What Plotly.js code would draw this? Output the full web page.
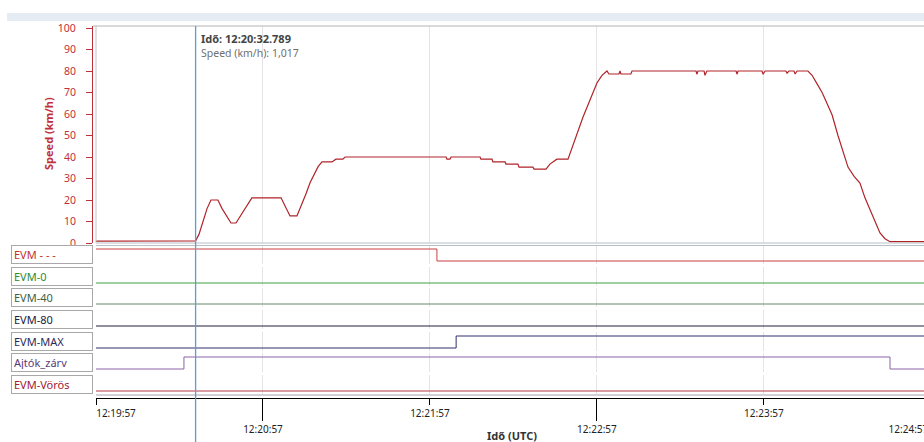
<!DOCTYPE html>
<html><head><meta charset="utf-8">
<script src="https://cdn.plot.ly/plotly-3.0.1.min.js"></script>
<style>html,body{margin:0;padding:0;overflow:hidden;background:#fff}#chart{width:960px;height:442px}</style>
</head><body><div id="chart"></div><script>
// ---------- data ----------
const DAY = '2024-05-14 ';
const xRange = ['12:19:57', '12:25:07.45'];
const cursorTime = '12:20:32.789';
const cursorSpeed = 1.017;

const speedTimes = ['12:19:57.0','12:20:30.8','12:20:32.789','12:20:34.0','12:20:35.4','12:20:36.9','12:20:38.3','12:20:40.8','12:20:42.3','12:20:44.1','12:20:45.5','12:20:47.3','12:20:49.1','12:20:50.9','12:20:53.0','12:21:03.5','12:21:04.9','12:21:06.7','12:21:09.2','12:21:11.0','12:21:12.5','12:21:13.9','12:21:15.3','12:21:16.8','12:21:18.2','12:21:21.8','12:21:23.2','12:21:25.7','12:21:26.5','12:22:02.8','12:22:03.1','12:22:04.2','12:22:04.6','12:22:15.0','12:22:15.3','12:22:19.3','12:22:19.6','12:22:24.0','12:22:24.3','12:22:28.6','12:22:29.0','12:22:34.0','12:22:34.4','12:22:38.7','12:22:40.1','12:22:41.2','12:22:42.6','12:22:46.6','12:22:49.1','12:22:52.0','12:22:54.5','12:22:57.0','12:22:58.8','12:22:59.9','12:23:00.6','12:23:01.3','12:23:04.9','12:23:05.3','12:23:05.6','12:23:09.2','12:23:09.6','12:23:32.6','12:23:32.9','12:23:33.3','12:23:35.5','12:23:35.8','12:23:36.5','12:23:47.0','12:23:47.3','12:23:47.7','12:23:56.3','12:23:56.7','12:23:57.4','12:24:04.9','12:24:05.3','12:24:06.0','12:24:07.8','12:24:08.2','12:24:08.9','12:24:12.8','12:24:14.3','12:24:16.1','12:24:17.9','12:24:20.0','12:24:21.5','12:24:23.6','12:24:25.4','12:24:27.2','12:24:29.4','12:24:31.5','12:24:33.3','12:24:35.1','12:24:36.9','12:24:38.7','12:24:40.5','12:24:42.3','12:25:07.4'];
const speedValues = [0.9,0.9,1.017,4,10,16,20,20,16,12,9.3,9.3,13,17,21,21,17,12.6,12.6,18,23,28,32,35.5,37.7,37.7,39,39,40,40,39,39,40,40,39,39,37.7,37.7,36.7,36.7,35.3,35.3,34.4,34.4,36.7,37.7,39,39,48,58.6,66.5,74.4,78,79,80,78.6,78.6,80,78.6,78.6,80,80,78.5,80,80,78,80,80,78.5,80,80,78.5,80,80,79,80,80,78.6,80,80,78,74,70,64,59.5,50,43,35.3,31,27.9,21,15.3,10,4.7,2,0.6,0.6];

const rowNames = ['EVM - - -','EVM-0','EVM-40','EVM-80','EVM-MAX','Ajtók_zárv','EVM-Vörös'];
const evmDashTimes = ['12:19:57','12:21:59.5','12:25:07.4'];
const evmDashStates = [1,0,0];
const evm0Times = ['12:19:57','12:25:07.4'];
const evm0States = [0,0];
const evm40Times = ['12:19:57','12:25:07.4'];
const evm40States = [0,0];
const evm80Times = ['12:19:57','12:25:07.4'];
const evm80States = [0,0];
const evmMaxTimes = ['12:19:57','12:22:06.4','12:25:07.4'];
const evmMaxStates = [0,1,1];
const ajtokTimes = ['12:19:57','12:20:28.6','12:24:42.3','12:25:07.4'];
const ajtokStates = [0,1,0,0];
const evmVorosTimes = ['12:19:57','12:25:07.4'];
const evmVorosStates = [0,0];

const oddTicks = ['12:19:57','12:21:57','12:23:57'];
const evenTicks = ['12:20:57','12:22:57','12:24:57'];
const speedTicks = [0,10,20,30,40,50,60,70,80,90,100];

// ---------- styling ----------
const W = 960, H = 442;
const px = v => v / W;
const py = v => 1 - v / H;
const d = s => DAY + s;
const FONT = 'Noto Sans, Liberation Sans, sans-serif';
const RED = '#c0303a';
const GRID = '#e4e4e4';
const SP = '\u2002';
const rowLineColors = ['#c84040','#3f9f3f','#688868','#20203c','#2e2e6e','#8a62a6','#b83848'];
const rowTextColors = ['#c03030','#2e8b2e','#3f5f3f','#20203a','#2a2a5a','#5a3a7a','#a02030'];
const rowBoxes = [[245,264],[267,286],[288,307],[310,329],[332,351],[353,372],[375,394]];
const rowData = [[evmDashTimes,evmDashStates],[evm0Times,evm0States],[evm40Times,evm40States],[evm80Times,evm80States],[evmMaxTimes,evmMaxStates],[ajtokTimes,ajtokStates],[evmVorosTimes,evmVorosStates]];

const traces = [{
  x: speedTimes.map(d), y: speedValues, xaxis:'x', yaxis:'y', type:'scatter', mode:'lines',
  line:{color:'#b02328', width:1.2}, hoverinfo:'skip'
}];
rowData.forEach((r,i)=>{
  traces.push({x:r[0].map(d), y:r[1], xaxis: i===6 ? 'x2' : 'x', yaxis:'y'+(i+2), type:'scatter', mode:'lines',
    line:{shape:'hv', color:rowLineColors[i], width:1}, hoverinfo:'skip'});
});

const tickFont = {family:FONT,size:10,color:'#222'};
const layout = {
  width:W, height:H, margin:{l:0,r:0,t:0,b:0}, showlegend:false,
  paper_bgcolor:'#fff', plot_bgcolor:'rgba(0,0,0,0)',
  font:{family:FONT, size:10, color:'#222'},
  xaxis:{type:'date', range:xRange.map(d), domain:[px(96),1], anchor:'free', position:py(398),
    showline:true, linecolor:'#000', linewidth:1, ticks:'outside', ticklen:6, tickcolor:'#000',
    tickmode:'array', tickvals:oddTicks.map(d),
    ticktext:oddTicks.map((s,i)=> i===0 ? SP.repeat(8)+s : s),
    tickfont:tickFont, ticklabeloverflow:'allow',
    showgrid:true, gridcolor:GRID, gridwidth:1, zeroline:false, fixedrange:true,
    minor:{tickmode:'array', tickvals:evenTicks.map(d), showgrid:true, gridcolor:GRID, ticks:''}},
  xaxis2:{type:'date', range:xRange.map(d), domain:[px(96),1], anchor:'free', position:py(398),
    showline:false, ticks:'outside', ticklen:22, tickcolor:'#000', tickmode:'array',
    tickvals:evenTicks.map(d),
    ticktext:evenTicks.map((s,i)=> i===evenTicks.length-1 ? s+SP.repeat(9) : s),
    tickfont:tickFont, ticklabeloverflow:'allow',
    showgrid:true, gridcolor:GRID, zeroline:false, fixedrange:true,
    minor:{tickmode:'array', tickvals:oddTicks.map(d), showgrid:true, gridcolor:GRID, ticks:''}},
  yaxis:{domain:[py(243), py(26)], range:[0, 100.93], anchor:'free', position:px(92),
    showline:true, linecolor:RED, linewidth:1, ticks:'outside', ticklen:6, tickcolor:RED,
    tickmode:'array', tickvals:speedTicks, tickfont:{family:FONT,size:10.5,color:RED}, ticklabelstandoff:8,
    showgrid:false, zeroline:false, fixedrange:true},
  shapes:[
    {type:'rect', xref:'paper', yref:'paper', x0:px(7), x1:1, y0:py(21), y1:py(13), fillcolor:'#e5ecf3', line:{width:0}, layer:'below'},
    {type:'line', xref:'paper', yref:'paper', x0:px(93), x1:1, y0:py(26), y1:py(26), line:{color:'#b4b4b4', width:1}},
    {type:'line', xref:'paper', yref:'paper', x0:px(96), x1:px(96), y0:py(243), y1:py(26), line:{color:'#c4c4c4', width:1}},
    {type:'line', xref:'paper', yref:'paper', x0:px(96), x1:1, y0:py(243), y1:py(243), line:{color:'#b8c0c8', width:1}},
    {type:'line', xref:'paper', yref:'paper', x0:px(96), x1:1, y0:py(245.5), y1:py(245.5), line:{color:'#b8c0c8', width:1}},
    {type:'line', xref:'paper', yref:'paper', x0:px(96), x1:1, y0:py(395), y1:py(395), line:{color:'#a8a0b0', width:1}},
    {type:'line', xref:'x', yref:'paper', x0:d(cursorTime), x1:d(cursorTime), y0:0, y1:py(26), line:{color:'#5b9fd0', width:1.3}}
  ],
  annotations:[]
};
for (let i = 2; i <= 8; i++) {
  const b = rowBoxes[i-2];
  layout['yaxis'+i] = {domain:[py(b[1]), py(b[0])], range:[-0.25,1.333], visible:false, fixedrange:true, anchor: i===8 ? 'x2' : 'x'};
}
rowNames.forEach((n,i)=>{
  const b = rowBoxes[i];
  layout.annotations.push({xref:'paper', yref:'paper', x:px(11), y:py((b[0]+b[1])/2), xanchor:'left', yanchor:'middle',
    text:n, showarrow:false, align:'left', width:76, height:13, borderpad:2, borderwidth:1, bordercolor:'#a8a8a8', bgcolor:'#fff',
    font:{family:FONT, size:11, color:rowTextColors[i]}});
});
layout.annotations.push({xref:'paper', yref:'paper', x:px(48), y:py(134), xanchor:'center', yanchor:'middle', textangle:-90, showarrow:false,
  text:'<b>Speed (km/h)</b>', font:{family:FONT, size:11, color:RED}});
layout.annotations.push({xref:'paper', yref:'paper', x:px(512), y:py(435), xanchor:'center', yanchor:'middle', showarrow:false,
  text:'<b>Idő (UTC)</b>', font:{family:FONT, size:11, color:'#333'}});
layout.annotations.push({xref:'x', yref:'paper', x:d(cursorTime), y:py(38), xanchor:'left', yanchor:'middle', xshift:3, showarrow:false,
  text:'<b>Idő: '+cursorTime+'</b>', font:{family:FONT, size:11, color:'#444'}});
layout.annotations.push({xref:'x', yref:'paper', x:d(cursorTime), y:py(53), xanchor:'left', yanchor:'middle', xshift:3, showarrow:false,
  text:'Speed (km/h): '+cursorSpeed.toFixed(3).replace('.',','), font:{family:FONT, size:10.5, color:'#707070'}});

Plotly.newPlot('chart', traces, layout, {staticPlot:true, displayModeBar:false});
</script></body></html>
